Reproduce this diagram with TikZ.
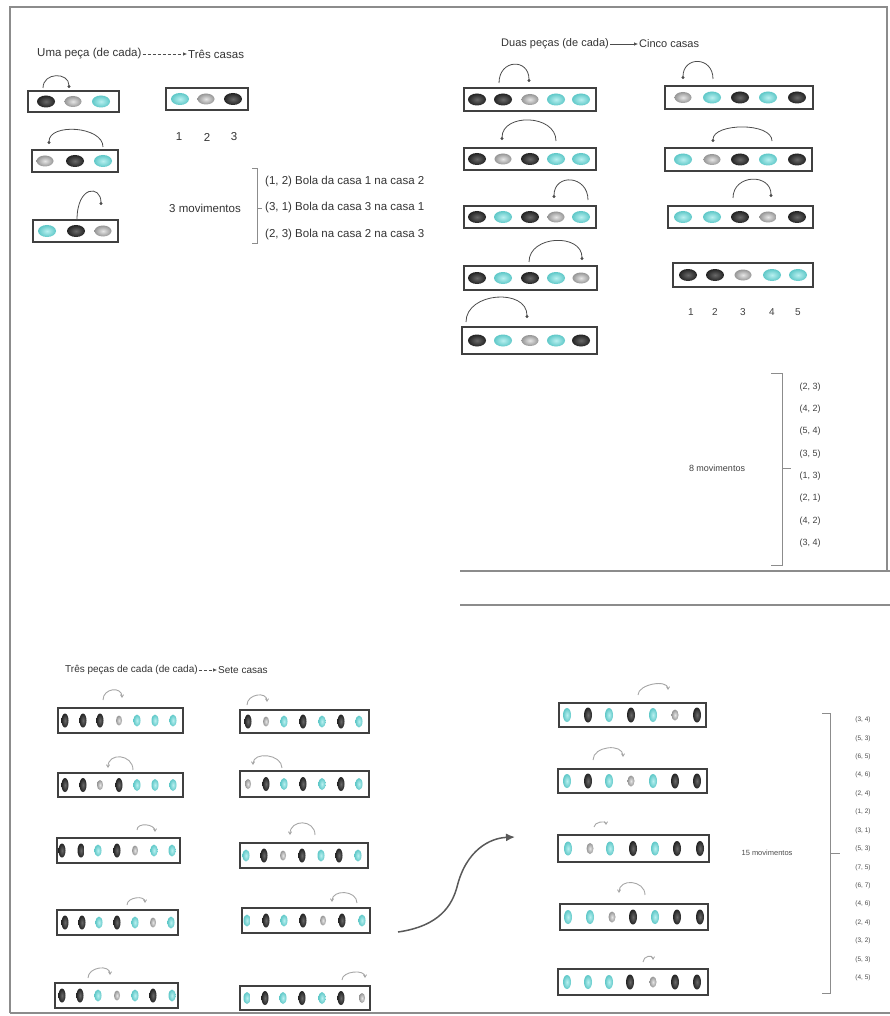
\documentclass[tikz,border=0pt]{standalone}
\usepackage{fontspec}
\setmainfont{Liberation Sans}
\usetikzlibrary{arrows.meta,shapes.geometric}
\definecolor{cyin}{RGB}{185,240,240}
\definecolor{cyout}{RGB}{95,200,200}
\definecolor{dkin}{RGB}{105,105,105}
\definecolor{dkout}{RGB}{35,35,35}
\definecolor{lgin}{RGB}{230,230,230}
\definecolor{lgout}{RGB}{150,150,150}
\tikzset{
 txt/.style={inner sep=1pt, text=black!80, font=\fontsize{11.5}{13}\selectfont},
 txtb/.style={inner sep=1pt, text=black!80, font=\fontsize{11}{13}\selectfont},
 txtc/.style={inner sep=1pt, text=black!80, font=\fontsize{10}{12}\selectfont},
 txts/.style={inner sep=1pt, text=black!75, font=\fontsize{9}{11}\selectfont},
 txtt/.style={inner sep=0.5pt, text=black!70, font=\fontsize{6.5}{8}\selectfont},
 frameline/.style={draw=black!45, line width=1.6pt},
 rowbox/.style={rectangle, draw=black!75, line width=1.6pt, fill=white, inner sep=0pt},
 ballD/.style={ellipse, inner sep=0pt, shading=radial, inner color=dkin, outer color=dkout},
 ballG/.style={ellipse, inner sep=0pt, shading=radial, inner color=lgin, outer color=lgout},
 ballC/.style={ellipse, inner sep=0pt, shading=radial, inner color=cyin, outer color=cyout},
 bD/.style={ballD, minimum width=18pt, minimum height=12pt},
 bG/.style={ballG, minimum width=17pt, minimum height=11pt},
 bC/.style={ballC, minimum width=18pt, minimum height=12pt},
 vD/.style={ballD, minimum width=7pt, minimum height=14pt},
 vG/.style={ballG, minimum width=6pt, minimum height=10pt},
 vC/.style={ballC, minimum width=7pt, minimum height=12pt},
 wD/.style={ballD, minimum width=8pt, minimum height=15pt},
 wG/.style={ballG, minimum width=7pt, minimum height=11pt},
 wC/.style={ballC, minimum width=8pt, minimum height=14pt},
 arcT/.style={draw=black!70, line width=0.8pt, -{Circle[length=3pt]}},
 arcB/.style={draw=black!35, line width=0.9pt, -{Straight Barb[length=2.5pt,width=3pt]}},
 brk/.style={draw=black!45, line width=0.9pt},
 titarr/.style={draw=black!70, line width=0.6pt, -{Latex[length=4pt,width=3.5pt]}},
}
\newcommand\mkrow[6]{%
 \pgfmathsetmacro\myrw{#3-#2}\pgfmathsetmacro\myrh{#5-#4}%
 \pgfmathsetmacro\myrx{(#2+#3)/2}\pgfmathsetmacro\myry{-(#4+#5)/2}%
 \node[rowbox, minimum width=\myrw pt, minimum height=\myrh pt] (#1) at (\myrx,\myry) {};%
 \foreach \xx/\cc [count=\i] in {#6} {\node[\cc] (#1-\i) at (\xx,\myry) {};}%
}
\newcommand\mvarc[6]{\draw[#1] ([shift={(#3)}]#2.center) .. controls +(0,#6) and +(0,#6) .. ([shift={(#5)}]#4.center);}
\begin{document}
\begin{tikzpicture}[x=1pt,y=1pt]
\useasboundingbox (0,0) rectangle (890,-1016);
% frame
\draw[frameline] (10,-1013) -- (10,-7) -- (887,-7) -- (887,-571);
\draw[frameline] (10,-1013) -- (890,-1013);
\draw[frameline] (460,-571) -- (890,-571);
\draw[frameline] (460,-605) -- (890,-605);

% ---------- top left ----------
\node[txt, anchor=west] (t1a) at (36,-54) {Uma peça (de cada)};
\node[txt, anchor=west] (t1b) at (187,-54) {Três casas};
\draw[titarr, densely dashed] (t1a.east) -- (t1b.west);

\mkrow{tl1}{28}{119}{91}{112}{46/bD,73/bG,101/bC}
\mkrow{tl2}{32}{118}{150}{172}{45/bG,75/bD,103/bC}
\mkrow{tl3}{33}{118}{220}{242}{47/bC,76/bD,103/bG}
\mkrow{tlf}{166}{248}{88}{110}{180/bC,206/bG,233/bD}
\mvarc{arcT}{tl1-1}{-3,13.5}{tl1-2}{-4,13.5}{16}
\mvarc{arcT}{tl2-3}{0,14}{tl2-1}{4,17}{21}
\draw[arcT] ([shift={(1,11)}]tl3-2.center) .. controls +(0,35) and +(0,20) .. ([shift={(-2,26)}]tl3-3.center);

\node[txt] (n1) at (179,-137) {1};
\node[txt] (n2) at (207,-137) {2};
\node[txt] (n3) at (234,-137) {3};

\node[txt] (mv3) at (205,-208) {3 movimentos};
\draw[brk] (252,-168) -- (257,-168) -- (257,-243) -- (252,-243);
\draw[brk] (257,-208) -- (262,-208);
\node[txt, anchor=west] (m1) at (264,-182) {(1, 2) Bola da casa 1 na casa 2};
\node[txt, anchor=west] (m2) at (264,-208) {(3, 1) Bola da casa 3 na casa 1};
\node[txt, anchor=west] (m3) at (264,-235) {(2, 3) Bola na casa 2 na casa 3};

% ---------- top right ----------
\node[txtb, anchor=west] (t2a) at (500,-44) {Duas peças (de cada)};
\node[txtb, anchor=west] (t2b) at (638,-44) {Cinco casas};
\draw[titarr] (t2a.east) -- (t2b.west);

\mkrow{ra}{464}{596}{88}{111}{477/bD,503/bD,530/bG,556/bC,581/bC}
\mkrow{rb}{464}{596}{148}{170}{477/bD,503/bG,530/bD,556/bC,581/bC}
\mkrow{rc}{464}{596}{206}{228}{477/bD,503/bC,530/bD,556/bG,581/bC}
\mkrow{rd}{464}{597}{266}{290}{477/bD,503/bC,530/bD,556/bC,581/bG}
\mkrow{re}{462}{597}{327}{354}{477/bD,503/bC,530/bG,556/bC,581/bD}
\mkrow{rf}{665}{813}{86}{109}{683/bG,712/bC,740/bD,768/bC,797/bD}
\mkrow{rg}{665}{812}{148}{171}{683/bC,712/bG,740/bD,768/bC,797/bD}
\mkrow{rh}{668}{813}{206}{228}{683/bC,712/bC,740/bD,768/bG,797/bD}
\mkrow{ri}{673}{813}{263}{287}{688/bD,715/bD,743/bG,772/bC,798/bC}
\mvarc{arcT}{ra-2}{-4,16.5}{ra-3}{-1,17.5}{24}
\mvarc{arcT}{rb-4}{0,18}{rb-2}{-1,19}{27}
\mvarc{arcT}{rc-5}{7,17}{rc-4}{-2,19}{25}
\mvarc{arcT}{rd-3}{-1,16}{rd-5}{1,18}{27}
\mvarc{arcT}{re-1}{-11,18.5}{re-3}{-3,22.5}{30}
\mvarc{arcT}{rf-2}{1,18.5}{rf-1}{0,18.5}{23}
\mvarc{arcT}{rg-4}{4,18.5}{rg-2}{1,17.5}{19}
\mvarc{arcT}{rh-3}{-7,19}{rh-4}{3,20}{24}

\foreach \xx [count=\i] in {691,715,743,772,798} {\node[txts, font=\fontsize{10}{12}\selectfont] (q\i) at (\xx,-312) {\i};}

\node[txts] (mv8) at (717,-468) {8 movimentos};
\draw[brk] (771,-373) -- (782,-373) -- (782,-565) -- (771,-565);
\draw[brk] (782,-468) -- (791,-468);
\foreach \t [count=\i] in {{(2, 3)},{(4, 2)},{(5, 4)},{(3, 5)},{(1, 3)},{(2, 1)},{(4, 2)},{(3, 4)}}
 {\node[txts] (e\i) at (810,{-387-(\i-1)*22.3}) {\t};}

% ---------- bottom ----------
\node[txtc, anchor=west] (t3a) at (64,-670) {Três peças de cada (de cada)};
\node[txtc, anchor=west] (t3b) at (217,-670) {Sete casas};
\draw[titarr, densely dashed] (t3a.east) -- (t3b.west);

\mkrow{la}{58}{183}{708}{733}{65/vD,83/vD,100/vD,119/vG,137/vC,155/vC,173/vC}
\mkrow{sa}{240}{369}{710}{733}{248/vD,266/vG,284/vC,303/vD,322/vC,341/vD,359/vC}
\mkrow{lb}{58}{183}{773}{797}{65/vD,83/vD,100/vG,119/vD,137/vC,155/vC,173/vC}
\mkrow{sb}{240}{369}{771}{797}{248/vG,266/vD,284/vC,303/vD,322/vC,341/vD,359/vC}
\mkrow{lc}{57}{180}{838}{863}{62/vD,81/vD,98/vC,117/vD,135/vG,154/vC,172/vC}
\mkrow{sc}{240}{368}{843}{868}{246/vC,264/vD,283/vG,302/vD,321/vC,339/vD,358/vC}
\mkrow{ld}{57}{178}{910}{935}{65/vD,82/vD,99/vC,117/vD,135/vC,153/vG,171/vC}
\mkrow{sd}{242}{370}{908}{933}{247/vC,266/vD,284/vC,303/vD,323/vG,342/vD,362/vC}
\mkrow{le}{55}{178}{983}{1008}{62/vD,80/vD,98/vC,117/vG,135/vC,153/vD,172/vC}
\mkrow{se}{240}{370}{986}{1010}{247/vC,265/vD,283/vC,302/vD,322/vC,341/vD,362/vG}

\mkrow{ka}{559}{706}{703}{727}{567/wC,588/wD,609/wC,631/wD,653/wC,675/wG,697/wD}
\mkrow{kb}{558}{707}{769}{793}{567/wC,588/wD,609/wC,631/wG,653/wC,675/wD,697/wD}
\mkrow{kc}{558}{709}{835}{862}{568/wC,590/wG,610/wC,633/wD,655/wC,677/wD,700/wD}
\mkrow{kd}{560}{708}{904}{930}{568/wC,590/wC,612/wG,633/wD,655/wC,677/wD,700/wD}
\mkrow{ke}{558}{708}{969}{995}{567/wC,588/wC,609/wC,630/wD,653/wG,675/wD,697/wD}

\mvarc{arcB}{la-3}{3,20.5}{la-4}{3,22.5}{12}
\mvarc{arcB}{sa-1}{-1,16.5}{sa-2}{1,19.5}{11}
\mvarc{arcB}{lb-5}{-4,15}{lb-3}{8,17}{16}
\mvarc{arcB}{sb-3}{-2,16}{sb-1}{5,19}{14}
\mvarc{arcB}{lc-5}{2,20.5}{lc-6}{1,18.5}{8}
\mvarc{arcB}{sc-4}{13,20.5}{sc-3}{7,20.5}{16}
\mvarc{arcB}{ld-4}{10,17.5}{ld-5}{10,19.5}{8}
\mvarc{arcB}{sd-7}{-5,17.5}{sd-5}{9,18.5}{13}
\mvarc{arcB}{le-2}{8,17.5}{le-3}{12,20.5}{11}
\mvarc{arcB}{se-6}{1,18}{se-7}{3,20}{9}
\mvarc{arcB}{ka-4}{7,20}{ka-6}{-7,25}{11}
\mvarc{arcB}{kb-2}{5,21}{kb-4}{-8,24}{14}
\mvarc{arcB}{kc-2}{4,21.5}{kc-2}{16,23.5}{5}
\mvarc{arcB}{kd-5}{-10,22}{kd-3}{7,24}{15}
\mvarc{arcB}{ke-5}{-10,20}{ke-5}{0,22}{6}

% big arrow
\coordinate (bigA) at (398,-932);
\coordinate (bigB) at (515,-837);
\draw[draw=black!65, line width=1.5pt, -{Latex[length=9pt,width=8pt]}]
 (bigA) .. controls (440,-926) and (452,-905) .. (457,-887)
        .. controls (466,-850) and (490,-838) .. (bigB);

\node[txtt, font=\fontsize{7.5}{9}\selectfont] (mv15) at (767,-853) {15 movimentos};
\draw[brk] (822,-713) -- (830,-713) -- (830,-993) -- (822,-993);
\draw[brk] (830,-853) -- (840,-853);
\foreach \t [count=\i] in {{(3, 4)},{(5, 3)},{(6, 5)},{(4, 6)},{(2, 4)},{(1, 2)},{(3, 1)},{(5, 3)},{(7, 5)},{(6, 7)},{(4, 6)},{(2, 4)},{(3, 2)},{(5, 3)},{(4, 5)}}
 {\node[txtt] (f\i) at (863,{-720-(\i-1)*18.43}) {\t};}
\end{tikzpicture}
\end{document}
